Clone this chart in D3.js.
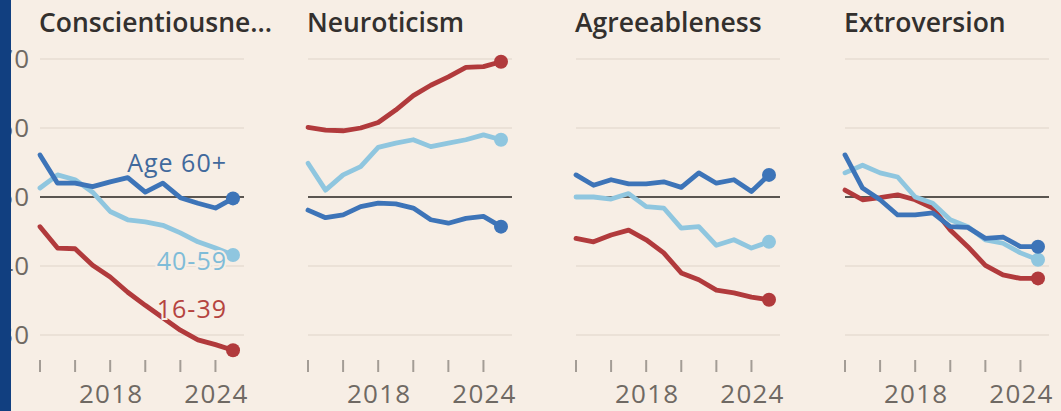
<!DOCTYPE html>
<html>
<head>
<meta charset="utf-8">
<script src="https://cdn.jsdelivr.net/npm/d3@7"></script>
<style>
  body { margin: 0; background: #f7eee5; }
  svg { display: block; font-family: "Open Sans", sans-serif; }
</style>
</head>
<body>
<svg width="1061" height="411"></svg>
<script>
var years = [2014, 2015, 2016, 2017, 2018, 2019, 2020, 2021, 2022, 2023, 2024, 2025];
var traits = ["Conscientiousne...", "Neuroticism", "Agreeableness", "Extroversion"];
var ageGroups = ["16-39", "40-59", "Age 60+"];
var yTicks = [30, 40, 50, 60, 70];
var xTicks = [2014, 2016, 2018, 2020, 2022, 2024];
var xLabels = [2018, 2024];

// one array per trait, per age group
var conscYoung = [45.7, 42.6, 42.5, 40.1, 38.4, 36.2, 34.3, 32.5, 30.7, 29.3, 28.6, 27.8];
var conscMid = [51.3, 53.2, 52.5, 50.7, 47.9, 46.7, 46.4, 45.9, 44.8, 43.5, 42.6, 41.6];
var conscOld = [56.1, 52.0, 52.0, 51.5, 52.2, 52.8, 50.7, 52.0, 49.9, 49.1, 48.4, 49.8];

var neuroYoung = [60.1, 59.7, 59.6, 60.0, 60.8, 62.6, 64.7, 66.2, 67.4, 68.8, 68.9, 69.6];
var neuroMid = [54.9, 51.0, 53.2, 54.4, 57.2, 57.8, 58.3, 57.3, 57.8, 58.3, 59.0, 58.3];
var neuroOld = [48.1, 47.0, 47.4, 48.6, 49.1, 49.0, 48.4, 46.7, 46.2, 46.9, 47.2, 45.7];

var agreeYoung = [44.0, 43.5, 44.5, 45.2, 43.8, 41.9, 39.0, 38.0, 36.5, 36.1, 35.5, 35.1];
var agreeMid = [50.0, 50.0, 49.7, 50.5, 48.6, 48.4, 45.5, 45.7, 43.0, 43.8, 42.6, 43.5];
var agreeOld = [53.2, 51.7, 52.5, 51.9, 51.9, 52.2, 51.4, 53.5, 52.0, 52.5, 50.8, 53.2];

var extroYoung = [51.0, 49.6, 49.9, 50.3, 49.6, 48.4, 45.2, 42.8, 40.1, 38.7, 38.2, 38.2];
var extroMid = [53.5, 54.6, 53.5, 52.9, 50.0, 49.1, 46.7, 45.7, 43.8, 43.3, 41.9, 40.9];
var extroOld = [56.1, 51.3, 49.6, 47.4, 47.4, 47.7, 45.7, 45.6, 44.0, 44.2, 42.8, 42.8];

var panels = [
  [conscYoung, conscMid, conscOld],
  [neuroYoung, neuroMid, neuroOld],
  [agreeYoung, agreeMid, agreeOld],
  [extroYoung, extroMid, extroOld]
];

var lineColors = ["#b13a3c", "#8fc6df", "#3d74b8"];
var labelColors = ["#b5443f", "#7fbcd8", "#41699c"];

var svg = d3.select("svg");

svg.append("rect").attr("width", 1061).attr("height", 411).attr("fill", "#f7eee5");

var panelX = [40, 308, 576, 845];

var x = d3.scaleLinear().domain([2014, 2025]).range([0, 193]);
var y = d3.scaleLinear().domain([30, 70]).range([335, 59]);

var line = d3
  .line()
  .x(function (d, i) {
    return x(years[i]);
  })
  .y(function (d) {
    return y(d);
  });

panels.forEach(function (series, p) {
  var g = svg.append("g").attr("transform", "translate(" + panelX[p] + ",0)");

  g.append("text")
    .attr("x", -1)
    .attr("y", 32)
    .attr("font-size", 26.5)
    .attr("font-weight", 600)
    .attr("fill", "#33302e")
    .text(traits[p]);

  // gridlines
  g.selectAll(".grid")
    .data(yTicks.filter(function (d) { return d !== 50; }))
    .enter()
    .append("line")
    .attr("x1", 0)
    .attr("x2", 204)
    .attr("y1", function (d) { return y(d); })
    .attr("y2", function (d) { return y(d); })
    .attr("stroke", "#e7ddd2")
    .attr("stroke-width", 1.5);

  g.append("line")
    .attr("x1", 0)
    .attr("x2", 204)
    .attr("y1", y(50))
    .attr("y2", y(50))
    .attr("stroke", "#5a5550")
    .attr("stroke-width", 2);

  if (p === 0) {
    g.selectAll(".ylab")
      .data(yTicks)
      .enter()
      .append("text")
      .attr("x", -10)
      .attr("y", function (d) { return y(d); })
      .attr("dy", "0.35em")
      .attr("text-anchor", "end")
      .attr("font-size", 26)
      .attr("letter-spacing", 1)
      .attr("fill", "#6f6963")
      .text(function (d) { return d; });
  }

  // x ticks
  g.selectAll(".tick")
    .data(xTicks)
    .enter()
    .append("line")
    .attr("x1", function (d) { return x(d); })
    .attr("x2", function (d) { return x(d); })
    .attr("y1", 360)
    .attr("y2", 372)
    .attr("stroke", "#a39c95")
    .attr("stroke-width", 2);

  g.selectAll(".xlab")
    .data(xLabels)
    .enter()
    .append("text")
    .attr("x", function (d) { return x(d) + 1; })
    .attr("y", 403)
    .attr("text-anchor", "middle")
    .attr("font-size", 26)
    .attr("letter-spacing", 1.2)
    .attr("fill", "#6f6963")
    .text(function (d) { return d; });

  series.forEach(function (vals, s) {
    g.append("path")
      .datum(vals)
      .attr("d", line)
      .attr("fill", "none")
      .attr("stroke", lineColors[s])
      .attr("stroke-width", 4.8)
      .attr("stroke-linejoin", "round")
      .attr("stroke-linecap", "round");

    g.append("circle")
      .attr("cx", x(years[years.length - 1]))
      .attr("cy", y(vals[vals.length - 1]))
      .attr("r", 7)
      .attr("fill", lineColors[s]);
  });

  if (p === 0) {
    var labelY = [318, 270, 172];
    ageGroups.forEach(function (name, s) {
      g.append("text")
        .attr("x", 187)
        .attr("y", labelY[s])
        .attr("text-anchor", "end")
        .attr("font-size", 25)
        .attr("letter-spacing", 1)
        .attr("fill", labelColors[s])
        .attr("stroke", "#f7eee5")
        .attr("stroke-width", 4)
        .attr("paint-order", "stroke")
        .text(name);
    });
  }
});

// dark frame edge on the left
svg.append("rect").attr("x", 0).attr("y", 0).attr("width", 11).attr("height", 411).attr("fill", "#113f80");
</script>
</body>
</html>
